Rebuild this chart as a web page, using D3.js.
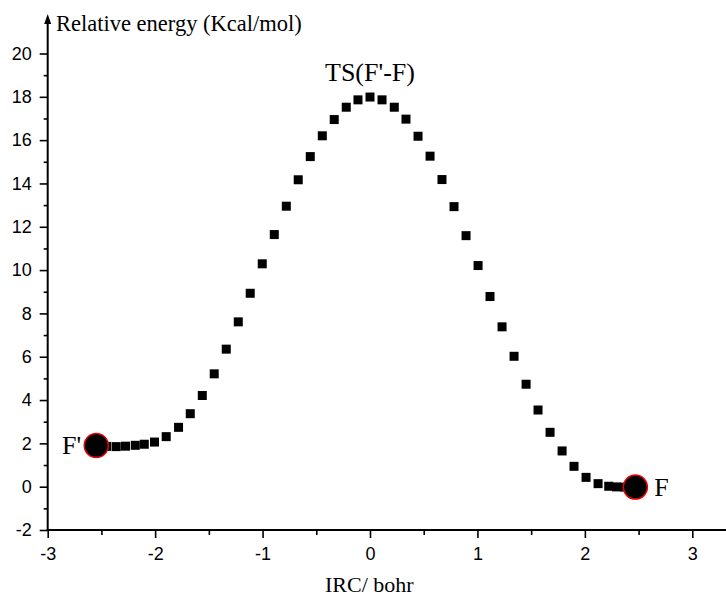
<!DOCTYPE html>
<html><head><meta charset="utf-8">
<script src="https://cdn.jsdelivr.net/npm/d3@7"></script>
<style>body{margin:0;background:#fff}svg{display:block}</style>
</head><body>
<script>
const irc = [-2.45,-2.362,-2.276,-2.185,-2.101,-2.006,-1.897,-1.782,-1.673,-1.561,-1.450,-1.338,-1.226,-1.115,-1.003,-0.891,-0.779,-0.668,-0.556,-0.444,-0.333,-0.221,-0.112,0,0.112,0.226,0.335,0.447,0.559,0.670,0.782,0.894,1.006,1.117,1.229,1.341,1.453,1.564,1.676,1.788,1.899,2.011,2.123,2.222,2.293,2.37];
const energy = [1.86,1.85,1.87,1.91,1.96,2.06,2.31,2.74,3.37,4.21,5.21,6.35,7.61,8.93,10.29,11.64,12.95,14.17,15.24,16.20,16.95,17.52,17.86,17.99,17.86,17.52,16.97,16.18,15.26,14.18,12.93,11.59,10.21,8.78,7.38,6.02,4.73,3.54,2.51,1.65,0.94,0.43,0.14,0.02,-0.01,-0.02];
const endpointNames = ["F'", "F"];
const endpointX = [-2.548, 2.47];
const endpointY = [1.90, -0.02];
const tsLabel = "TS(F'-F)";
const tsX = 0, tsY = 17.99;
const xTicks = [-3,-2,-1,0,1,2,3];
const xMinor = [-2.5,-1.5,-0.5,0.5,1.5,2.5];
const yTicks = [-2,0,2,4,6,8,10,12,14,16,18,20];
const yMinor = [-1,1,3,5,7,9,11,13,15,17,19];
const xTitle = "IRC/ bohr";
const yTitle = "Relative energy (Kcal/mol)";

const W = 726, H = 599;
const svg = d3.select("body").append("svg").attr("width", W).attr("height", H);
const x = d3.scaleLinear().domain([-3, 3]).range([47.7, 692.3]);
const y = d3.scaleLinear().domain([-2, 20]).range([530, 53.5]);
const tickFont = "Arial, 'Liberation Sans', sans-serif";
const serif = "'Times New Roman', 'Liberation Serif', serif";
const fmt = d => String(d);

// x axis
const gx = svg.append("g").attr("transform", `translate(0,${y(-2)})`)
  .call(d3.axisBottom(x).tickValues(xTicks).tickSize(8).tickPadding(9).tickFormat(fmt));
gx.select(".domain").remove();
gx.selectAll(".tick line").attr("stroke", "#000").attr("stroke-width", 1.6);
gx.selectAll("text").attr("font-family", tickFont).attr("font-size", 18).attr("fill", "#000");
const gxm = svg.append("g").attr("transform", `translate(0,${y(-2)})`)
  .call(d3.axisBottom(x).tickValues(xMinor).tickSize(5).tickFormat(""));
gxm.select(".domain").remove();
gxm.selectAll(".tick line").attr("stroke", "#000").attr("stroke-width", 1.6);
svg.append("line").attr("x1", x(-3) - 1).attr("x2", W).attr("y1", y(-2)).attr("y2", y(-2))
  .attr("stroke", "#000").attr("stroke-width", 2);

// y axis
const gy = svg.append("g").attr("transform", `translate(${x(-3)},0)`)
  .call(d3.axisLeft(y).tickValues(yTicks).tickSize(8).tickPadding(8).tickFormat(fmt));
gy.select(".domain").remove();
gy.selectAll(".tick line").attr("stroke", "#000").attr("stroke-width", 1.6);
gy.selectAll("text").attr("font-family", tickFont).attr("font-size", 18).attr("fill", "#000");
const gym = svg.append("g").attr("transform", `translate(${x(-3)},0)`)
  .call(d3.axisLeft(y).tickValues(yMinor).tickSize(4).tickFormat(""));
gym.select(".domain").remove();
gym.selectAll(".tick line").attr("stroke", "#000").attr("stroke-width", 1.6);
const yTop = 14;
svg.append("line").attr("x1", x(-3)).attr("x2", x(-3)).attr("y1", y(-2) + 1).attr("y2", yTop + 6)
  .attr("stroke", "#000").attr("stroke-width", 2);
svg.append("path").attr("d", `M${x(-3)},${yTop} L${x(-3) - 3.5},${yTop + 10} L${x(-3) + 3.5},${yTop + 10} Z`).attr("fill", "#000");

// titles
svg.append("text").attr("x", 56).attr("y", 31).attr("font-family", serif).attr("font-size", 22.5)
  .attr("fill", "#000").text(yTitle);
svg.append("text").attr("x", 325).attr("y", 592).attr("font-family", serif).attr("font-size", 22)
  .attr("fill", "#000").text(xTitle);

// points
const s = 9;
svg.append("g").selectAll("rect").data(irc.map((d, i) => [d, energy[i]])).join("rect")
  .attr("x", d => x(d[0]) - s / 2).attr("y", d => y(d[1]) - s / 2)
  .attr("width", s).attr("height", s).attr("fill", "#000");

svg.append("g").selectAll("circle").data(endpointX.map((d, i) => [d, endpointY[i]])).join("circle")
  .attr("cx", d => x(d[0])).attr("cy", d => y(d[1])).attr("r", 12)
  .attr("fill", "#000").attr("stroke", "#e00").attr("stroke-width", 1.5);

// labels
svg.append("text").attr("x", x(endpointX[0]) - 15).attr("y", y(endpointY[0]) + 8)
  .attr("text-anchor", "end").attr("font-family", serif).attr("font-size", 26).attr("fill", "#000").text(endpointNames[0]);
svg.append("text").attr("x", x(endpointX[1]) + 19).attr("y", y(endpointY[1]) + 9)
  .attr("font-family", serif).attr("font-size", 26).attr("fill", "#000").text(endpointNames[1]);
svg.append("text").attr("x", x(tsX)).attr("y", y(tsY) - 16)
  .attr("text-anchor", "middle").attr("font-family", serif).attr("font-size", 26).attr("fill", "#000").text(tsLabel);
</script>
</body></html>
